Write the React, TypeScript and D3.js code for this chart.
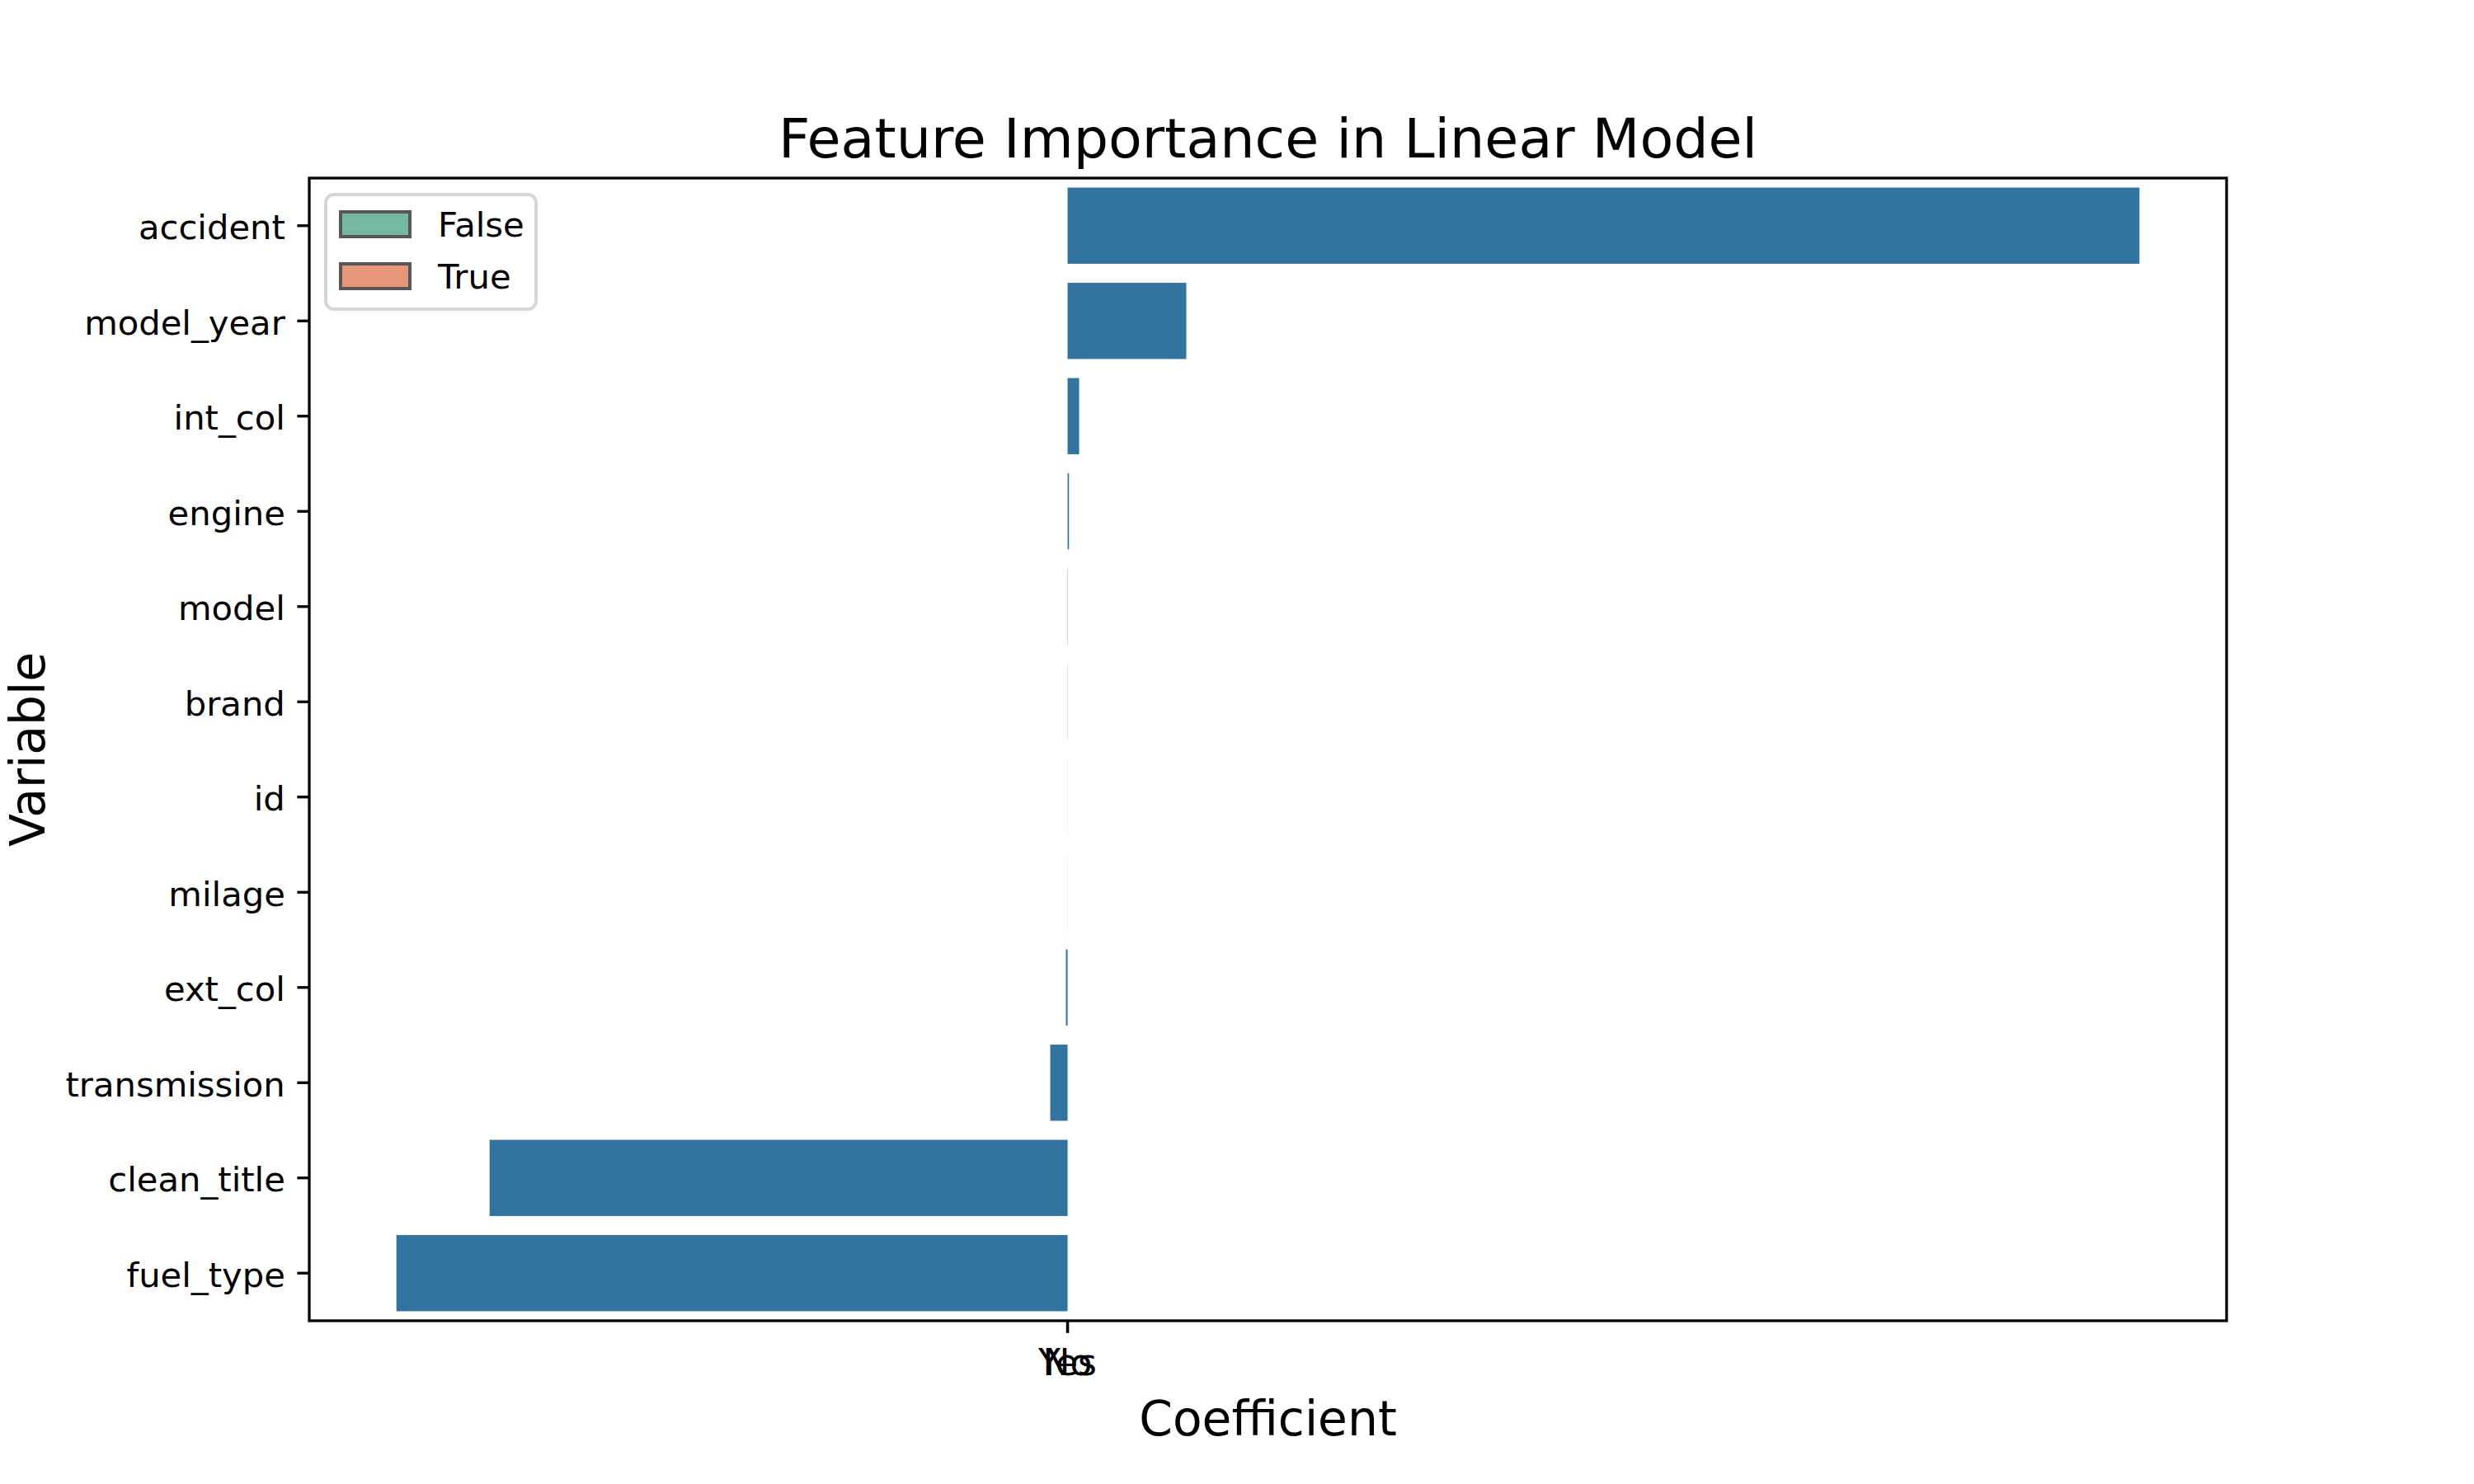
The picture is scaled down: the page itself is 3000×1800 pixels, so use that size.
import React from 'react'
import * as d3 from 'd3'

// coefficients (arbitrary units, sorted as in the chart)
const variables = ['accident', 'model_year', 'int_col', 'engine', 'model', 'brand', 'id', 'milage', 'ext_col', 'transmission', 'clean_title', 'fuel_type']
const coefficients = [1300, 144, 14, 1.7, 0.3, 0.2, 0.1, -0.1, -2, -21, -701, -814]
const xTickValues = [0, 0]
const xTickLabels = ['Yes', 'No']
const legendLabels = ['False', 'True']
const legendColors = ['#74b8a0', '#e8967a']

const W = 3000
const H = 1800
const margin = { top: 216, right: 300, bottom: 198, left: 375 }
const FONT = 'DejaVu Sans, sans-serif'

export default function App() {
    const innerW = W - margin.left - margin.right
    const innerH = H - margin.top - margin.bottom

    const lo = Math.min(0, d3.min(coefficients) as number)
    const hi = Math.max(0, d3.max(coefficients) as number)
    const pad = (hi - lo) * 0.05

    const x = d3.scaleLinear()
        .domain([lo - pad, hi + pad])
        .range([margin.left, margin.left + innerW])

    const y = d3.scaleBand<string>()
        .domain(variables)
        .range([margin.top, margin.top + innerH])
        .paddingInner(0.2)
        .paddingOuter(0.1)

    const tickLen = 14.6
    const tickFont = 41.7
    const x0 = margin.left
    const x1 = margin.left + innerW
    const y0 = margin.top
    const y1 = margin.top + innerH

    return (
        <svg width={W} height={H} style={{ position: 'absolute', left: 0, top: 0, background: '#fff' }} fontFamily={FONT}>
            <rect x={0} y={0} width={W} height={H} fill="#fff" />

            {/* bars */}
            {variables.map((v, i) => {
                const val = coefficients[i]
                const xa = x(Math.min(0, val))
                const xb = x(Math.max(0, val))
                return (
                    <rect key={v} x={xa} y={y(v)} width={Math.max(0, xb - xa)} height={y.bandwidth()} fill="#3274a1" />
                )
            })}

            {/* y axis ticks */}
            {variables.map(v => {
                const cy = (y(v) as number) + y.bandwidth() / 2
                return (
                    <g key={v}>
                        <line x1={x0 - tickLen} x2={x0} y1={cy} y2={cy} stroke="#000" strokeWidth={3.3} />
                        <text x={x0 - tickLen * 2} y={cy + 16.5} textAnchor="end" fontSize={tickFont} fill="#000">{v}</text>
                    </g>
                )
            })}

            {/* x axis ticks */}
            {xTickValues.map((t, i) => (
                <g key={i}>
                    <line x1={x(t)} x2={x(t)} y1={y1} y2={y1 + tickLen} stroke="#000" strokeWidth={3.3} />
                    <text x={x(t)} y={1668} textAnchor="middle" fontSize={44} fill="#000">{xTickLabels[i]}</text>
                </g>
            ))}

            {/* frame */}
            <rect x={x0} y={y0} width={innerW} height={innerH} fill="none" stroke="#000" strokeWidth={3.3} />

            {/* legend */}
            <rect x={395} y={236} width={255} height={139} rx={10} fill="#fff" fillOpacity={0.8} stroke="#d6d6d6" strokeWidth={4} />
            {legendLabels.map((lab, i) => (
                <g key={lab}>
                    <rect x={413} y={257 + i * 63} width={84} height={30} fill={legendColors[i]} stroke="#575757" strokeWidth={4} />
                    <text x={531} y={287 + i * 63} fontSize={tickFont} fill="#000">{lab}</text>
                </g>
            ))}

            {/* title & labels */}
            <text x={(x0 + x1) / 2} y={191} textAnchor="middle" fontSize={66.7} fill="#000">Feature Importance in Linear Model</text>
            <text x={(x0 + x1) / 2} y={1741} textAnchor="middle" fontSize={58.3} fill="#000">Coefficient</text>
            <text transform={`translate(54,${(y0 + y1) / 2}) rotate(-90)`} textAnchor="middle" fontSize={58.3} fill="#000">Variable</text>
        </svg>
    )
}
